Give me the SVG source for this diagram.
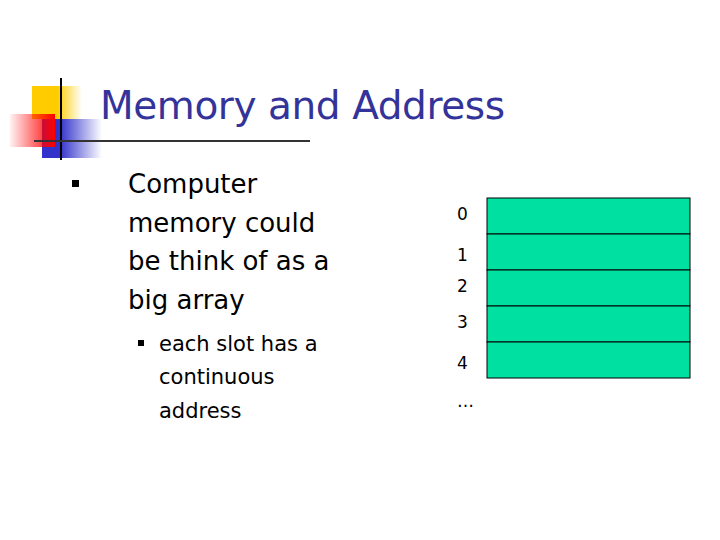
<svg xmlns="http://www.w3.org/2000/svg" width="720" height="540" viewBox="0 0 720 540">
<defs>
<linearGradient id="gy" x1="0" x2="1"><stop offset="0.5" stop-color="#ffcc00"/><stop offset="1" stop-color="#ffcc00" stop-opacity="0"/></linearGradient>
<linearGradient id="gr" x1="1" x2="0"><stop offset="0" stop-color="#ff0000"/><stop offset="1" stop-color="#ff0000" stop-opacity="0.05"/></linearGradient>
<linearGradient id="gb" x1="0" x2="1"><stop offset="0.3" stop-color="#3333cc"/><stop offset="1" stop-color="#3333cc" stop-opacity="0"/></linearGradient>
</defs>
<style>
.t{font-family:"DejaVu Sans",Verdana,sans-serif;fill:#000}
.cell{fill:#00e0a0;stroke:#000;stroke-width:1}
</style>
<rect width="720" height="540" fill="#fff"/>
<g id="logo">
<rect x="32" y="86" width="50" height="33" fill="url(#gy)"/>
<rect x="42" y="119" width="60" height="39" fill="url(#gb)"/>
<rect x="10" y="114" width="45" height="33" fill="url(#gr)"/>
<line x1="61" y1="78" x2="61" y2="160" stroke="#000" stroke-width="2"/>
<line x1="34" y1="141" x2="310" y2="141" stroke="#333" stroke-width="2"/>
</g>
<text x="100" y="119" font-family="'DejaVu Sans',Verdana,sans-serif" font-size="39" fill="#333399" textLength="405">Memory and Address</text>
<g id="bullets">
<rect x="72" y="180" width="7" height="7" fill="#000"/>
<text class="t" font-size="26" x="128" y="193">Computer</text>
<text class="t" font-size="26" x="128" y="232">memory could</text>
<text class="t" font-size="26" x="128" y="270">be think of as a</text>
<text class="t" font-size="26" x="128" y="309">big array</text>
<rect x="138" y="340" width="6" height="6" fill="#000"/>
<text class="t" font-size="21" x="159" y="351">each slot has a</text>
<text class="t" font-size="21" x="159" y="384">continuous</text>
<text class="t" font-size="21" x="159" y="418">address</text>
</g>
<g id="array">
<rect class="cell" x="487" y="198" width="203" height="36"/>
<rect class="cell" x="487" y="234" width="203" height="36"/>
<rect class="cell" x="487" y="270" width="203" height="36"/>
<rect class="cell" x="487" y="306" width="203" height="36"/>
<rect class="cell" x="487" y="342" width="203" height="36"/>
</g>
<g id="labels" class="t" font-size="17">
<text x="457" y="220">0</text>
<text x="457" y="261">1</text>
<text x="457" y="292">2</text>
<text x="457" y="328">3</text>
<text x="457" y="369">4</text>
<text x="457" y="407">…</text>
</g>
</svg>
